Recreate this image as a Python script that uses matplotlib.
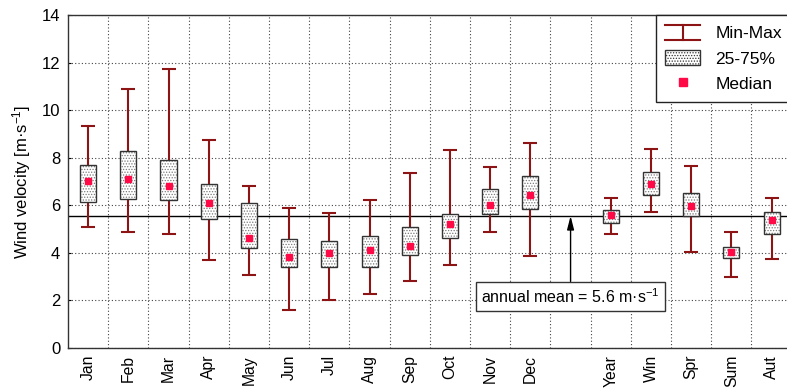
import numpy as np
import matplotlib
matplotlib.use("Agg")
import matplotlib.pyplot as plt
from matplotlib.legend_handler import HandlerBase
from matplotlib.lines import Line2D
from matplotlib.patches import Patch

plt.rcParams['font.family'] = ['Liberation Sans', 'DejaVu Sans']
plt.rcParams['mathtext.default'] = 'regular'
plt.rcParams['hatch.linewidth'] = 0.6
plt.rcParams['hatch.color'] = '#7a7a7a'

# valores (m/s)
labels = ['Jan', 'Feb', 'Mar', 'Apr', 'May', 'Jun', 'Jul', 'Aug', 'Sep', 'Oct',
          'Nov', 'Dec', 'Year', 'Win', 'Spr', 'Sum', 'Aut']
vmax_ = [9.32, 10.90, 11.74, 8.73, 6.81, 5.90, 5.69, 6.22, 7.34, 8.31,
         7.62, 8.62, 6.32, 8.38, 7.66, 4.89, 6.32]
q75 = [7.71, 8.29, 7.90, 6.91, 6.08, 4.60, 4.50, 4.70, 5.09, 5.62,
       6.70, 7.22, 5.81, 7.38, 6.53, 4.23, 5.70]
med = [7.02, 7.12, 6.82, 6.11, 4.61, 3.83, 3.99, 4.11, 4.30, 5.21,
       6.01, 6.43, 5.60, 6.89, 5.98, 4.05, 5.39]
q25 = [6.12, 6.25, 6.23, 5.44, 4.22, 3.42, 3.40, 3.42, 3.91, 4.64,
       5.65, 5.83, 5.25, 6.44, 5.56, 3.80, 4.79]
vmin_ = [5.10, 4.89, 4.79, 3.71, 3.08, 1.60, 2.02, 2.28, 2.82, 3.50,
         4.89, 3.88, 4.80, 5.72, 4.04, 2.98, 3.74]
annual_mean = 5.55

vmax_ = np.array(vmax_); vmin_ = np.array(vmin_)
q75 = np.array(q75); q25 = np.array(q25); med = np.array(med)

# posiciones: hueco entre Dec y Year
idx = np.arange(len(labels))
pos = idx + 1 + (idx >= 12)

red = '#8c1414'
pink = '#ff0a47'


class HandlerMinMax(HandlerBase):
    def create_artists(self, legend, orig_handle, xdescent, ydescent,
                       width, height, fontsize, trans):
        x0 = -xdescent
        x1 = x0 + width
        xm = 0.5 * (x0 + x1)
        y0 = -ydescent
        y1 = y0 + height
        arts = [Line2D([x0, x1], [y0, y0]), Line2D([x0, x1], [y1, y1]),
                Line2D([xm, xm], [y0, y1])]
        for a in arts:
            a.set_color(red)
            a.set_linewidth(1.5)
            a.set_transform(trans)
        return arts


fig = plt.figure(figsize=(7.87, 3.9), dpi=100)
ax = fig.add_axes([68 / 787, 42 / 390, (791.6 - 67.9) / 787, 333 / 390])

ax.errorbar(pos, med, yerr=[med - vmin_, vmax_ - med], fmt='none',
            ecolor=red, elinewidth=1.5, capsize=5, capthick=1.5, zorder=3)
ax.bar(pos, q75 - q25, bottom=q25, width=0.4, color='white', hatch='......',
       linewidth=0, zorder=4)
ax.bar(pos, q75 - q25, bottom=q25, width=0.4, fill=False,
       edgecolor='#333333', linewidth=1.0, zorder=5)
ax.plot(pos, med, 's', color=pink, markersize=5, zorder=6)

ax.axhline(annual_mean, color='black', linewidth=1.0, zorder=2)
ax.annotate('annual mean = 5.6 m·s$^{-1}$', xy=(13, annual_mean), xytext=(13, 2.16),
            ha='center', va='center', fontsize=11.5,
            bbox=dict(boxstyle='square,pad=0.33', fc='white', ec='#333333', lw=1),
            arrowprops=dict(arrowstyle='-|>,head_width=0.18,head_length=0.7',
                            color='black', lw=1, shrinkA=0, shrinkB=0),
            zorder=7)

ax.set_xlim(0.5, 18.5)
ax.set_ylim(0, 14)
ax.set_xticks(pos)
ax.set_xticklabels(labels, rotation=90, fontsize=11.3)
ax.set_xticks(np.arange(1.5, 18, 1), minor=True)
ax.set_yticks(np.arange(0, 15, 2))
ax.tick_params(axis='y', labelsize=12, direction='in', length=2, pad=5.5)
ax.tick_params(axis='x', which='major', length=0, pad=5)
ax.tick_params(axis='x', which='minor', length=0)
ax.grid(True, axis='y', which='major', linestyle=(0, (1, 2)), color='#444444', lw=0.8)
ax.grid(True, axis='x', which='minor', linestyle=(0, (1, 2)), color='#444444', lw=0.8)
ax.set_axisbelow(True)
for s in ax.spines.values():
    s.set_color('#333333')
    s.set_linewidth(1.0)

ax.set_ylabel('Wind velocity [m·s$^{-1}$]', fontsize=12, labelpad=6)

h1 = Line2D([], [])
h2 = Patch(facecolor='white', edgecolor='#333333', hatch='......')
h3 = Line2D([], [], marker='s', color=pink, linestyle='none', markersize=6)
leg = ax.legend([h1, h2, h3], ['Min-Max', '25-75%', 'Median'],
                handler_map={h1: HandlerMinMax()}, loc='upper right',
                borderaxespad=0, fancybox=False, fontsize=12.5, handlelength=2.0,
                handleheight=1.0, handletextpad=0.9, labelspacing=0.5,
                borderpad=0.55, framealpha=1)
leg.get_frame().set_edgecolor('#222222')
leg.get_frame().set_linewidth(1.0)
leg.set_zorder(10)

fig.savefig('out.png', dpi=100)
